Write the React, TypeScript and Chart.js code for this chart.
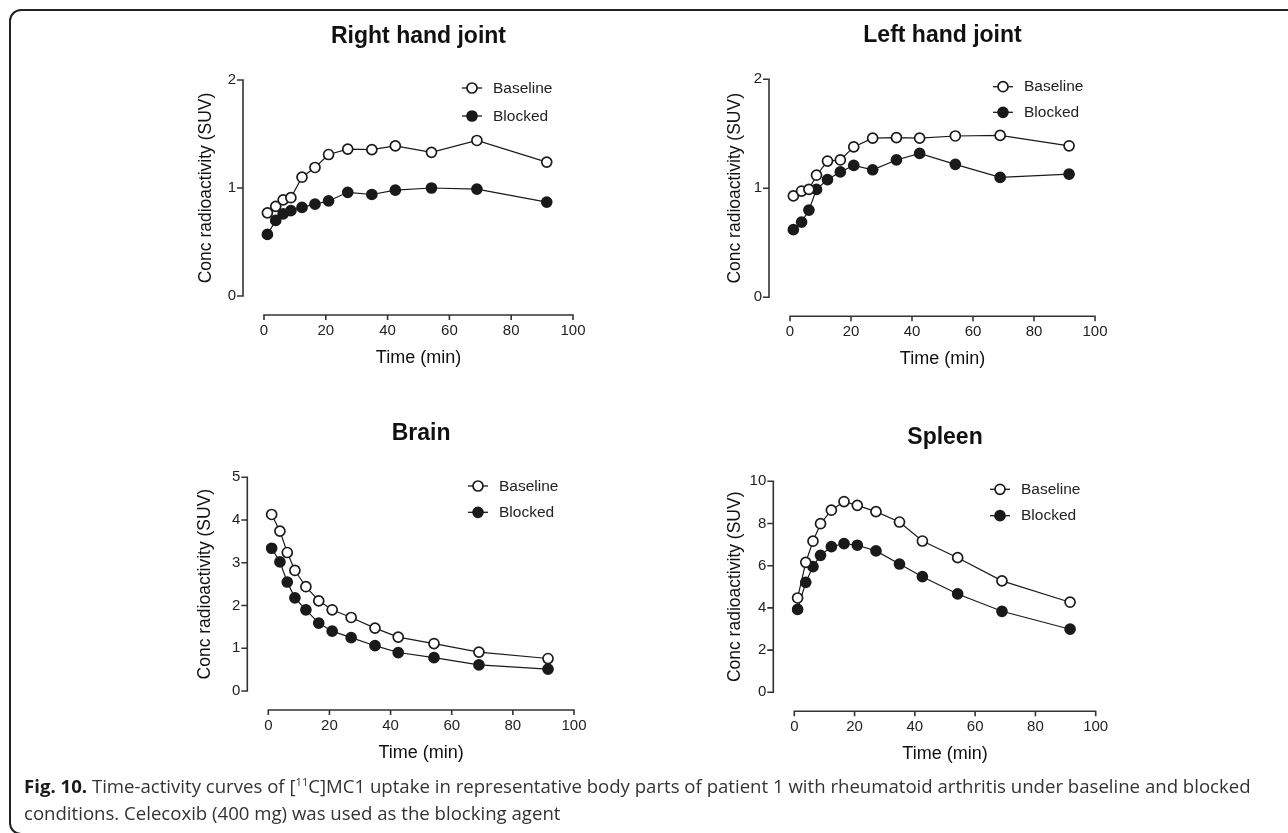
import React, { useEffect, useRef } from "react";
import { Chart, registerables } from "chart.js";

Chart.register(...registerables);

// ---- Data ----
const TIME_MIN = [1.1, 3.8, 6.2, 8.7, 12.3, 16.5, 20.9, 27.1, 34.9, 42.5, 54.2, 68.9, 91.5];
const X_TICKS = [0, 20, 40, 60, 80, 100];
const SERIES_NAMES = ["Baseline", "Blocked"];

const RIGHT_HAND_BASELINE = [0.77, 0.83, 0.89, 0.91, 1.1, 1.19, 1.31, 1.36, 1.355, 1.39, 1.33, 1.44, 1.24];
const RIGHT_HAND_BLOCKED = [0.57, 0.7, 0.76, 0.79, 0.82, 0.85, 0.88, 0.96, 0.94, 0.98, 1.0, 0.99, 0.87];
const LEFT_HAND_BASELINE = [0.93, 0.975, 0.99, 1.12, 1.25, 1.26, 1.38, 1.46, 1.465, 1.46, 1.48, 1.485, 1.39];
const LEFT_HAND_BLOCKED = [0.62, 0.69, 0.8, 0.99, 1.08, 1.15, 1.21, 1.17, 1.26, 1.32, 1.22, 1.1, 1.13];
const BRAIN_BASELINE = [4.13, 3.74, 3.24, 2.82, 2.44, 2.11, 1.9, 1.72, 1.47, 1.26, 1.11, 0.91, 0.76];
const BRAIN_BLOCKED = [3.34, 3.02, 2.55, 2.18, 1.9, 1.59, 1.4, 1.25, 1.06, 0.9, 0.78, 0.61, 0.51];
const SPLEEN_BASELINE = [4.47, 6.16, 7.16, 7.99, 8.63, 9.04, 8.86, 8.56, 8.07, 7.17, 6.38, 5.28, 4.27];
const SPLEEN_BLOCKED = [3.93, 5.21, 5.96, 6.49, 6.9, 7.05, 6.97, 6.7, 6.08, 5.48, 4.66, 3.84, 2.99];

const RIGHT_HAND_Y_TICKS = [0, 1, 2];
const LEFT_HAND_Y_TICKS = [0, 1, 2];
const BRAIN_Y_TICKS = [0, 1, 2, 3, 4, 5];
const SPLEEN_Y_TICKS = [0, 2, 4, 6, 8, 10];

const TITLES = ["Right hand joint", "Left hand joint", "Brain", "Spleen"];
const X_TITLE = "Time (min)";
const Y_TITLE = "Conc radioactivity (SUV)";

// ---- Layout (page pixels) ----
const LAYOUT = [
  { plot: { l: 264, r: 573, t: 80, b: 296 }, yTitleX: 206, legend: { x: 472, y: 88, dy: 28 } },
  { plot: { l: 790, r: 1095, t: 79.3, b: 297.3 }, yTitleX: 735, legend: { x: 1003, y: 86.7, dy: 25.6 } },
  { plot: { l: 268.3, r: 574, t: 477.3, b: 691 }, yTitleX: 205, legend: { x: 478, y: 486, dy: 26.3 } },
  { plot: { l: 794.3, r: 1095.7, t: 481.3, b: 692.3 }, yTitleX: 735, legend: { x: 1000, y: 489.3, dy: 26.4 } },
];

const FONT = "'Liberation Sans', Arial, sans-serif";
const INK = "#1a1a1a";
const AXIS = "#333";

type PanelDef = {
  title: string;
  baseline: number[];
  blocked: number[];
  yTicks: number[];
  layout: (typeof LAYOUT)[number];
};

const PANELS: PanelDef[] = [
  { title: TITLES[0], baseline: RIGHT_HAND_BASELINE, blocked: RIGHT_HAND_BLOCKED, yTicks: RIGHT_HAND_Y_TICKS, layout: LAYOUT[0] },
  { title: TITLES[1], baseline: LEFT_HAND_BASELINE, blocked: LEFT_HAND_BLOCKED, yTicks: LEFT_HAND_Y_TICKS, layout: LAYOUT[1] },
  { title: TITLES[2], baseline: BRAIN_BASELINE, blocked: BRAIN_BLOCKED, yTicks: BRAIN_Y_TICKS, layout: LAYOUT[2] },
  { title: TITLES[3], baseline: SPLEEN_BASELINE, blocked: SPLEEN_BLOCKED, yTicks: SPLEEN_Y_TICKS, layout: LAYOUT[3] },
];

const Y_AXIS_GAP = 21;
const X_AXIS_GAP = 19;
const TITLE_ABOVE = 43.5;
const X_TITLE_BELOW_AXIS = 43;

function Panel({ def }: { def: PanelDef }) {
  const ref = useRef<HTMLCanvasElement>(null);
  const { plot, yTitleX, legend } = def.layout;
  const cLeft = Math.round(plot.l - 120);
  const cTop = Math.round(plot.t - 70);
  const cRight = Math.round(plot.r + 60);
  const cBottom = Math.round(plot.b + 90);
  const cw = cRight - cLeft;
  const ch = cBottom - cTop;

  useEffect(() => {
    const yW = plot.l - cLeft;
    const xH = cBottom - plot.b;
    const yTitleSize = 17.5;
    const xTitleSize = 18;
    const yLh = yTitleSize * 1.2;
    const xLh = xTitleSize * 1.2;
    const xTitleY = plot.b + X_AXIS_GAP + X_TITLE_BELOW_AXIS; // page y of title centre
    const yMax = def.yTicks[def.yTicks.length - 1];
    const yStep = def.yTicks[1] - def.yTicks[0];

    const decor = {
      id: "prismDecor",
      afterDraw(chart: any) {
        const { ctx, chartArea } = chart;
        const xs = chart.scales.x;
        const ys = chart.scales.y;
        ctx.save();
        // y axis
        const ax = chartArea.left - Y_AXIS_GAP;
        ctx.strokeStyle = AXIS;
        ctx.lineWidth = 1.6;
        ctx.beginPath();
        ctx.moveTo(ax, ys.getPixelForValue(yMax));
        ctx.lineTo(ax, ys.getPixelForValue(0));
        def.yTicks.forEach((v) => {
          const py = ys.getPixelForValue(v);
          ctx.moveTo(ax + 0.8, py);
          ctx.lineTo(ax - 6, py);
        });
        ctx.stroke();
        // x axis
        const ay = chartArea.bottom + X_AXIS_GAP;
        ctx.beginPath();
        ctx.moveTo(xs.getPixelForValue(X_TICKS[0]), ay);
        ctx.lineTo(xs.getPixelForValue(X_TICKS[X_TICKS.length - 1]), ay);
        X_TICKS.forEach((v) => {
          const px = xs.getPixelForValue(v);
          ctx.moveTo(px, ay - 0.8);
          ctx.lineTo(px, ay + 5);
        });
        ctx.stroke();
        // title
        ctx.fillStyle = "#111";
        ctx.font = `bold 23px ${FONT}`;
        ctx.textAlign = "center";
        ctx.textBaseline = "middle";
        ctx.fillText(def.title, (chartArea.left + chartArea.right) / 2, chartArea.top - TITLE_ABOVE);
        // legend
        const lx = legend.x - cLeft;
        chart.data.datasets.forEach((ds: any, i: number) => {
          const ly = legend.y - cTop + i * legend.dy;
          ctx.strokeStyle = ds.borderColor;
          ctx.lineWidth = 1.3;
          ctx.beginPath();
          ctx.moveTo(lx - 10, ly);
          ctx.lineTo(lx + 10, ly);
          ctx.stroke();
          ctx.beginPath();
          ctx.arc(lx, ly, ds.pointRadius, 0, Math.PI * 2);
          ctx.fillStyle = ds.pointBackgroundColor;
          ctx.fill();
          ctx.lineWidth = ds.pointBorderWidth;
          ctx.strokeStyle = ds.pointBorderColor;
          ctx.stroke();
          ctx.fillStyle = "#222";
          ctx.font = `15.5px ${FONT}`;
          ctx.textAlign = "left";
          ctx.fillText(ds.label, lx + 21, ly + 0.5);
        });
        ctx.restore();
      },
    };

    const mk = (label: string, values: number[], filled: boolean) => ({
      label,
      data: TIME_MIN.map((t, i) => ({ x: t, y: values[i] })),
      borderColor: INK,
      borderWidth: 1.2,
      pointRadius: 5,
      pointHoverRadius: 5,
      pointBorderWidth: 1.7,
      pointBorderColor: INK,
      pointBackgroundColor: filled ? INK : "#ffffff",
      backgroundColor: filled ? INK : "#ffffff",
      fill: false,
      tension: 0,
      clip: false as any,
    });

    const chart = new Chart(ref.current as HTMLCanvasElement, {
      type: "line",
      data: {
        datasets: [mk(SERIES_NAMES[0], def.baseline, false), mk(SERIES_NAMES[1], def.blocked, true)],
      },
      options: {
        animation: false,
        responsive: false,
        devicePixelRatio: 1,
        events: [],
        layout: {
          autoPadding: false,
          padding: { left: 0, top: plot.t - cTop, right: cRight - plot.r, bottom: 0 },
        },
        plugins: { legend: { display: false }, title: { display: false }, tooltip: { enabled: false } },
        scales: {
          x: {
            type: "linear",
            min: X_TICKS[0],
            max: X_TICKS[X_TICKS.length - 1],
            grid: { display: false, drawTicks: false },
            border: { display: false },
            ticks: { stepSize: 20, padding: 26, color: "#222", font: { family: FONT, size: 15 } },
            title: {
              display: true,
              text: X_TITLE,
              color: "#111",
              font: { family: FONT, size: xTitleSize },
              padding: { top: 0, bottom: ch - (xTitleY - cTop) - xLh / 2 },
            },
            afterFit: (s: any) => {
              s.height = xH;
              s.paddingLeft = 0;
              s.paddingRight = 0;
            },
          },
          y: {
            type: "linear",
            min: 0,
            max: yMax,
            grid: { display: false, drawTicks: false },
            border: { display: false },
            ticks: { stepSize: yStep, padding: 28, color: "#222", font: { family: FONT, size: 15 } },
            title: {
              display: true,
              text: Y_TITLE,
              color: "#111",
              font: { family: FONT, size: yTitleSize },
              padding: { top: yTitleX - cLeft - yLh / 2, bottom: 0 },
            },
            afterFit: (s: any) => {
              s.width = yW;
              s.paddingTop = 0;
              s.paddingBottom = 0;
            },
          },
        },
      } as any,
      plugins: [decor as any],
    });
    return () => chart.destroy();
  }, []);

  return (
    <canvas
      ref={ref}
      width={cw}
      height={ch}
      style={{ position: "absolute", left: cLeft, top: cTop, width: cw, height: ch }}
    />
  );
}

export default function App() {
  return (
    <div
      style={{
        position: "absolute",
        left: 0,
        top: 0,
        width: 1288,
        height: 833,
        background: "#fff",
        overflow: "hidden",
      }}
    >
      <div
        style={{
          position: "absolute",
          left: 9,
          top: 9,
          width: 1400,
          height: 826,
          border: "2px solid #222",
          borderRadius: 12,
          boxSizing: "border-box",
        }}
      />
      {PANELS.map((p, i) => (
        <Panel key={i} def={p} />
      ))}
      <div
        style={{
          position: "absolute",
          left: 24,
          top: 774,
          width: 1260,
          fontFamily: "'Open Sans', 'Noto Sans', sans-serif",
          fontSize: 18.6,
          lineHeight: "23.5px",
          color: "#333",
          whiteSpace: "nowrap",
        }}
      >
        <span style={{ fontWeight: 700, color: "#1a1a1a" }}>Fig. 10.</span> Time-activity curves of [
        <span style={{ fontSize: "0.6em", position: "relative", top: "-0.65em" }}>11</span>C]MC1 uptake in
        representative body parts of patient 1 with rheumatoid arthritis under baseline and blocked
        <br />
        conditions. Celecoxib (400 mg) was used as the blocking agent
      </div>
    </div>
  );
}
